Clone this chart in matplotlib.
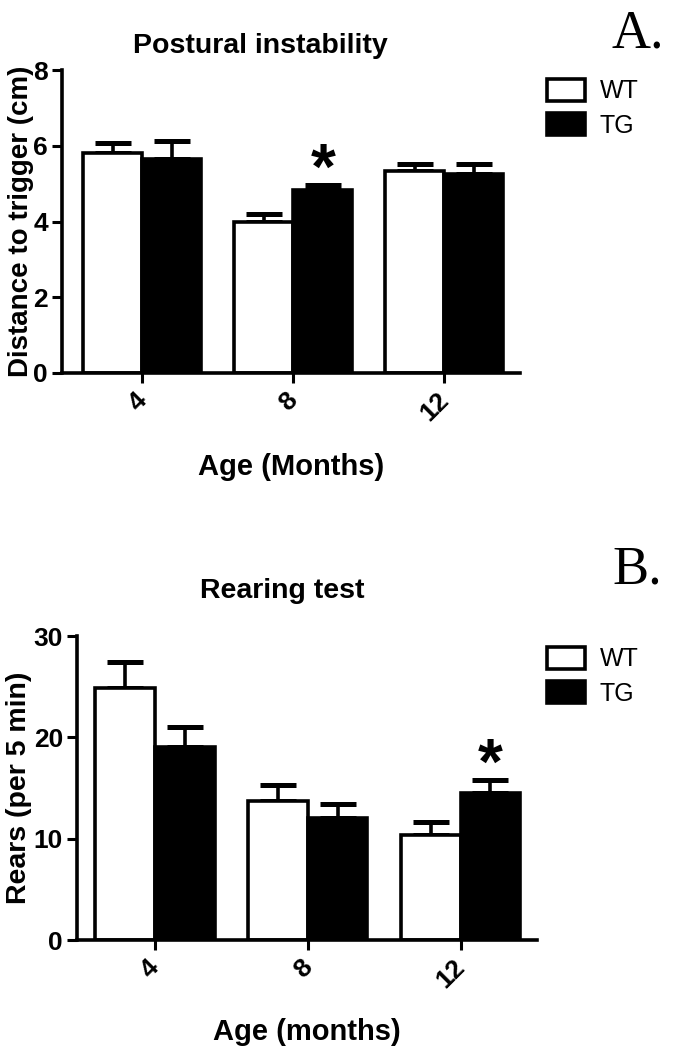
import matplotlib
matplotlib.use("Agg")
import matplotlib.pyplot as plt
import matplotlib.transforms as mtransforms
import numpy as np

plt.rcParams["font.family"] = ["Liberation Sans", "DejaVu Sans"]

ages = ["4", "8", "12"]

# Postural instability (cm)
postural_wt = [5.82, 3.98, 5.33]
postural_wt_err = [0.25, 0.22, 0.18]
postural_tg = [5.65, 4.82, 5.25]
postural_tg_err = [0.47, 0.15, 0.27]

# Rearing test (rears per 5 min)
rearing_wt = [24.9, 13.7, 10.4]
rearing_wt_err = [2.5, 1.6, 1.2]
rearing_tg = [19.0, 12.0, 14.5]
rearing_tg_err = [2.0, 1.4, 1.3]

W, H = 678, 1050
fig = plt.figure(figsize=(W / 100, H / 100), dpi=100)


def px(x, y):
    return x / W, 1 - y / H


def draw_panel(ax, wt, wt_err, tg, tg_err, ymax, yticks, ylabel, ylab_size, xlabel, star_idx,
               xlim, ylab_x, xlab_y, leg_xy):
    x = np.arange(len(ages))
    width = 0.39
    lw = 2.6
    ax.bar(x, wt, width=-width, align="edge", color="white", edgecolor="black", linewidth=lw,
           label="WT", zorder=2)
    ax.bar(x, tg, width=width, align="edge", color="black", edgecolor="black", linewidth=lw,
           label="TG", zorder=2)
    ax.errorbar(x - width / 2, wt, yerr=[np.zeros(len(wt)), wt_err], fmt="none", ecolor="black",
                elinewidth=lw, capsize=13, capthick=3.6, zorder=1)
    ax.errorbar(x + width / 2, tg, yerr=[np.zeros(len(tg)), tg_err], fmt="none", ecolor="black",
                elinewidth=lw, capsize=13, capthick=3.6, zorder=1)
    ax.annotate("*", (x[star_idx] + width / 2, tg[star_idx] + tg_err[star_idx]),
                xytext=(0, -12), textcoords="offset points", ha="center", va="bottom",
                fontsize=46, fontweight="bold")

    ax.set_xlim(*xlim)
    ax.set_ylim(0, ymax)
    ax.set_yticks(yticks)
    ax.set_xticks(x)
    ax.set_xticklabels(ages, rotation=45, ha="right", va="top", rotation_mode="anchor")
    for side in ["top", "right"]:
        ax.spines[side].set_visible(False)
    for side in ["left", "bottom"]:
        ax.spines[side].set_linewidth(2.6)
    ax.tick_params(width=2.2, length=7, labelsize=19, pad=3)
    ax.tick_params(axis="x", pad=6)
    shift = mtransforms.ScaledTranslation(-8 / 100, 3 / 100, fig.dpi_scale_trans)
    for lab in ax.get_xticklabels():
        lab.set_transform(lab.get_transform() + shift)
    for lab in ax.get_xticklabels() + ax.get_yticklabels():
        lab.set_fontweight("bold")
    ax.set_ylabel(ylabel, fontsize=ylab_size, fontweight="bold")
    ax.yaxis.set_label_coords(ylab_x, 0.5)
    ax.yaxis.label.set_va("center")
    ax.set_xlabel(xlabel, fontsize=21, fontweight="bold")
    ax.xaxis.set_label_coords(0.5, xlab_y)
    ax.xaxis.label.set_va("center")
    ax.legend(loc="upper left", bbox_to_anchor=px(*leg_xy), bbox_transform=fig.transFigure,
              frameon=False, fontsize=18, borderpad=0, borderaxespad=0,
              handlelength=1.5, handleheight=0.95, handletextpad=0.6, labelspacing=0.4)


ax1 = fig.add_axes([62 / W, 1 - 373 / H, (520 - 62) / W, (373 - 70) / H])
draw_panel(ax1, postural_wt, postural_wt_err, postural_tg, postural_tg_err, 8, [0, 2, 4, 6, 8],
           "Distance to trigger (cm)", 20, "Age (Months)", 1, (-0.53, 2.5),
           (21 - 62) / 458, (373 - 467) / 303, (547, 79))

ax2 = fig.add_axes([77 / W, 1 - 940 / H, (537 - 77) / W, (940 - 636) / H])
draw_panel(ax2, rearing_wt, rearing_wt_err, rearing_tg, rearing_tg_err, 30, [0, 10, 20, 30],
           "Rears (per 5 min)", 20.5, "Age (months)", 2, (-0.51, 2.5),
           (19 - 77) / 460, (940 - 1032) / 304, (547, 647))

fig.text(*px(260, 46), "Postural instability", fontsize=20.5, fontweight="bold",
         ha="center", va="center")
fig.text(*px(282, 591), "Rearing test", fontsize=20.5, fontweight="bold",
         ha="center", va="center")

fig.text(*px(612, 48), "A.", family="Liberation Serif", fontsize=39, ha="left", va="baseline")
fig.text(*px(612, 584), "B.", family="Liberation Serif", fontsize=39, ha="left", va="baseline")

fig.savefig("out.png", dpi=100)
